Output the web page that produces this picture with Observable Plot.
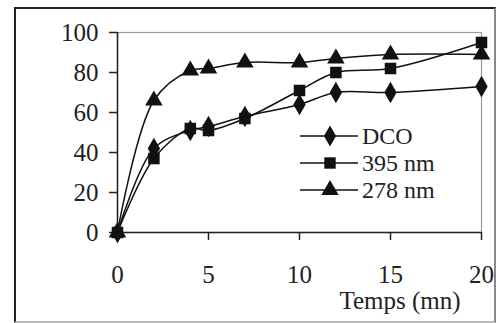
<!DOCTYPE html>
<html>
<head>
<meta charset="utf-8">
<script src="https://cdn.jsdelivr.net/npm/d3@7"></script>
<script src="https://cdn.jsdelivr.net/npm/@observablehq/plot@0.6"></script>
<style>
  html, body { margin: 0; padding: 0; background: #fff; }
  #wrap { position: relative; width: 504px; height: 323px; overflow: hidden; }
  #border { position: absolute; left: 14px; top: 7px; width: 478px; height: 312px;
    border-left: 2px solid #222; border-top: 2px solid #222;
    border-right: 2px solid #888; border-bottom: 2px solid #bbb; box-sizing: content-box; }
  #chart { position: absolute; left: 0; top: 0; }
  #chart svg text { font-family: "Liberation Serif", "Times New Roman", Times, serif !important; }
</style>
</head>
<body>
<div id="wrap"><div id="border"></div><div id="chart"></div></div>
<script>
const times = [0, 2, 4, 5, 7, 10, 12, 15, 20];
const dco = [0, 42, 51, 53, 58, 64, 70, 70, 73];
const nm395 = [0, 37, 52, 51, 57, 71, 80, 82, 95];
const nm278 = [0, 66, 81, 82, 85, 85, 87, 89, 89];
const seriesNames = ["DCO", "395 nm", "278 nm"];
const seriesSymbols = ["diamond", "square", "triangle"];
const xTicks = [0, 5, 10, 15, 20];
const yTicks = [0, 20, 40, 60, 80, 100];
const xLabel = "Temps (mn)";

const seriesValues = [dco, nm395, nm278];
const rows = [];
seriesNames.forEach((name, i) => {
  times.forEach((t, j) => rows.push({series: name, t, v: seriesValues[i][j], sym: seriesSymbols[i]}));
});

const W = 504, H = 323;
const mL = 117, mR = 23, mT = 32, mB = 91;

const chart = Plot.plot({
  width: W, height: H,
  marginLeft: mL, marginRight: mR, marginTop: mT, marginBottom: mB,
  style: {fontSize: "25px", color: "#222", background: "transparent"},
  x: {domain: [0, 20]},
  y: {domain: [0, 100]},
  symbol: {domain: seriesSymbols, range: seriesSymbols},
  marks: [
    Plot.frame({stroke: "#999", strokeWidth: 1.2}),
    Plot.ruleX([0], {stroke: "#222", strokeWidth: 1.5}),
    Plot.ruleY([0], {stroke: "#222", strokeWidth: 1.5}),
    Plot.axisY({ticks: yTicks, tickSize: 8, tickPadding: 11, label: null, tickFormat: d => String(d), stroke: "#222", strokeWidth: 1.5}),
    Plot.axisX({ticks: xTicks, tickSize: 8, tickPadding: 25, label: null, tickFormat: d => String(d), stroke: "#222", strokeWidth: 1.5}),
    Plot.line(rows, {x: "t", y: "v", z: "series", stroke: "#111", strokeWidth: 1.5, curve: "catmull-rom"}),
    Plot.dot(rows, {x: "t", y: "v", symbol: "sym", fill: "#111", r: 6.5})
  ]
});
document.getElementById("chart").appendChild(chart);

// x-axis title and legend, positioned relative to the chart
const svg = d3.select(chart);
svg.append("text")
  .attr("x", 400).attr("y", 309)
  .attr("text-anchor", "middle")
  .style("font-size", "25px").attr("fill", "#222")
  .text(xLabel);

const leg = svg.append("g").attr("text-anchor", "start");
const legY = [136, 163, 190];
const symGen = {diamond: d3.symbolDiamond, square: d3.symbolSquare, triangle: d3.symbolTriangle};
seriesNames.forEach((name, i) => {
  const g = leg.append("g").attr("transform", `translate(0,${legY[i]})`);
  g.append("line").attr("x1", 300).attr("x2", 358).attr("y1", 0).attr("y2", 0)
    .attr("stroke", "#111").attr("stroke-width", 1.5);
  g.append("path").attr("transform", "translate(330,0)")
    .attr("d", d3.symbol(symGen[seriesSymbols[i]], 130)())
    .attr("fill", "#111");
  g.append("text").attr("x", 362).attr("y", 0).attr("dy", "0.35em")
    .attr("text-anchor", "start")
    .style("font-size", "24px").attr("fill", "#222")
    .text(name);
});
</script>
</body>
</html>
